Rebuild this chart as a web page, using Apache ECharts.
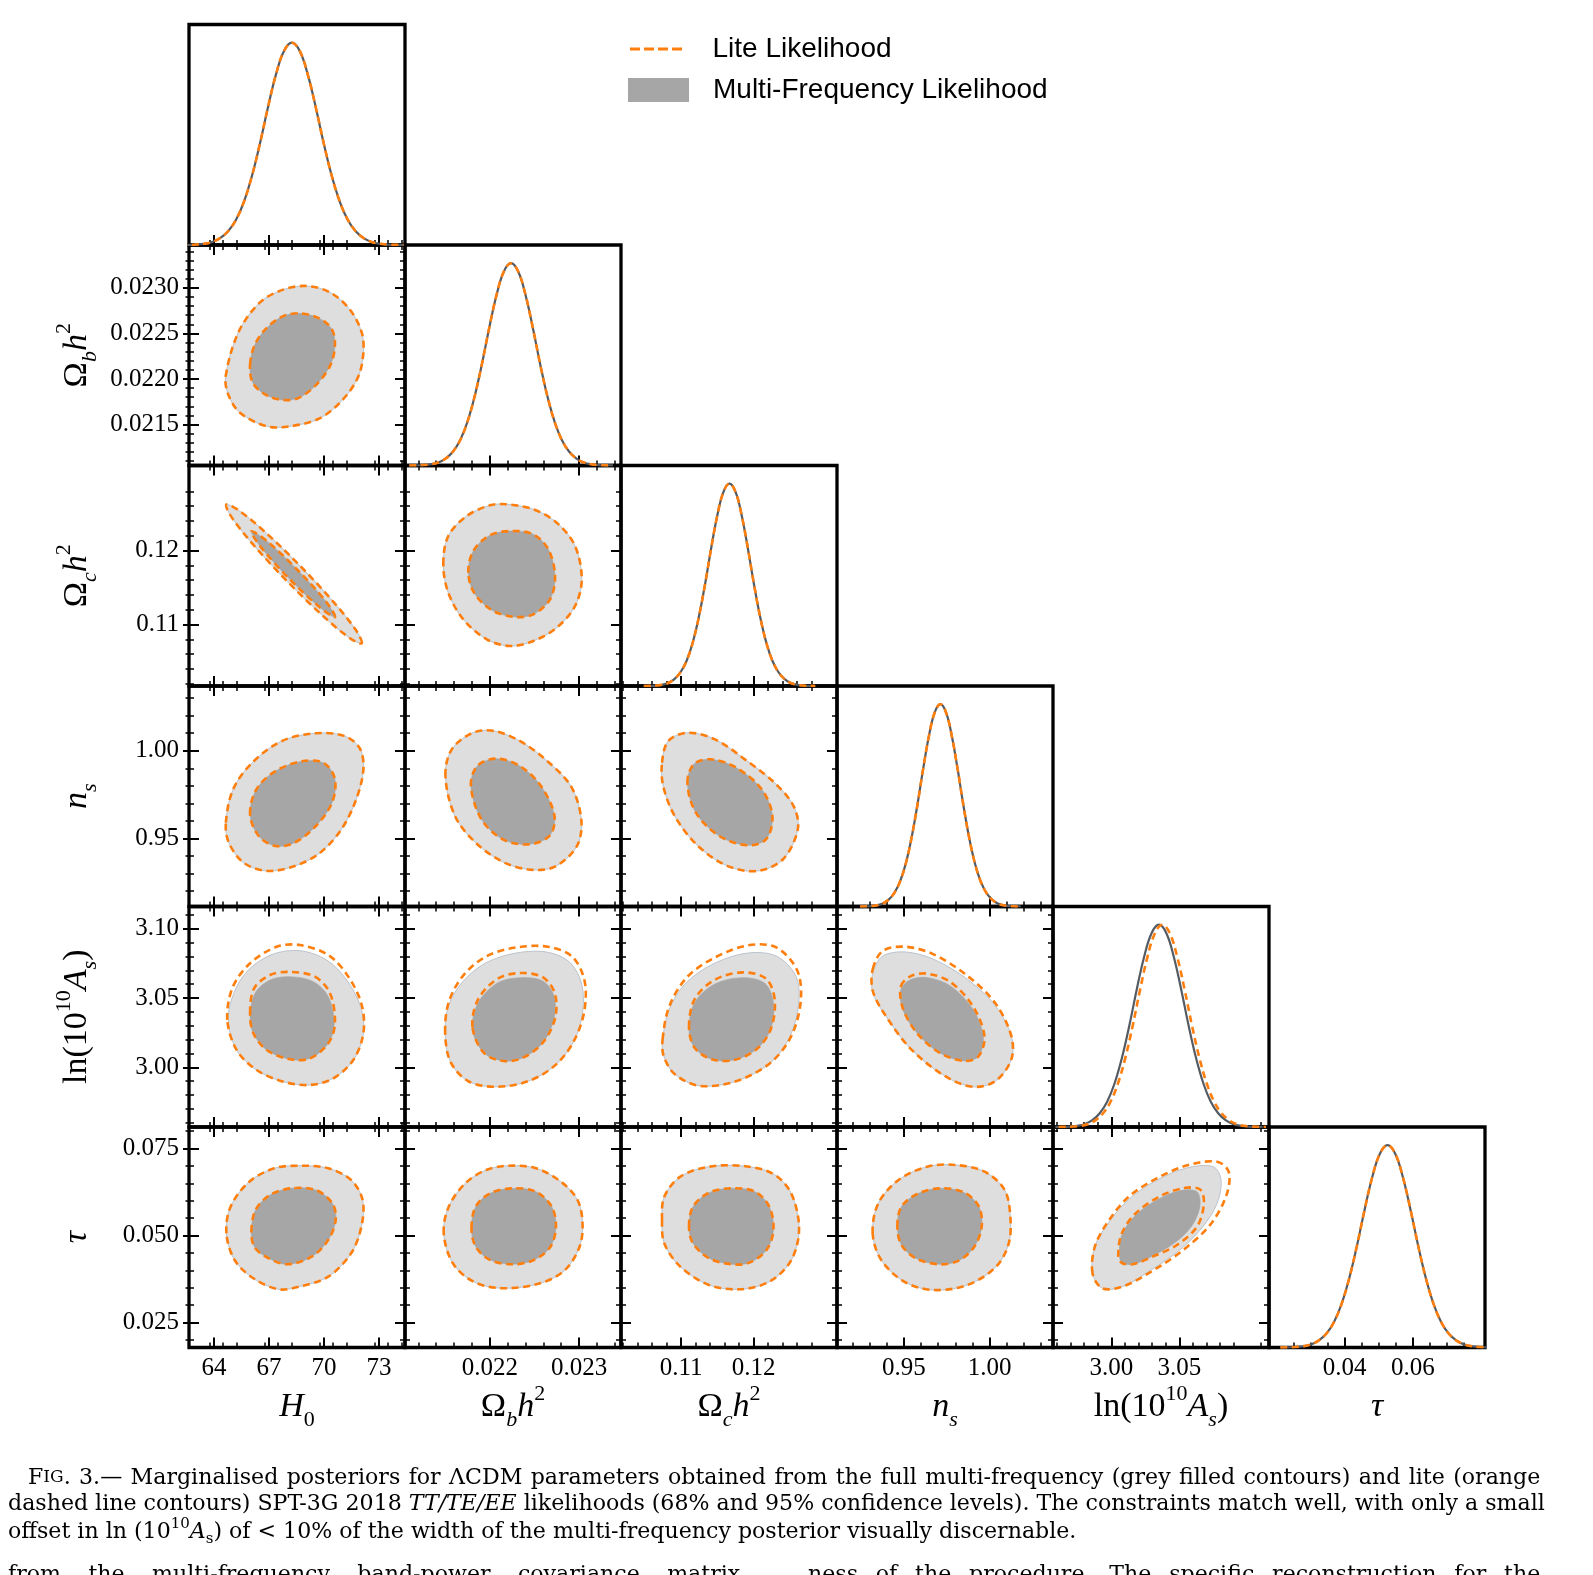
<!DOCTYPE html>
<html><head><meta charset="utf-8">
<script src="https://cdn.jsdelivr.net/npm/echarts@6/dist/echarts.min.js"></script>
<style>html,body{margin:0;padding:0;background:#fff}#c{width:1593px;height:1575px}</style>
</head><body><div id="c"></div>
<script>
// ---------------- DATA ----------------
const paramKeys = ['H0', 'Obh2', 'Och2', 'ns', 'lnAs', 'tau'];
const paramLabel = ['{it|H}{sub|0}', '{rm|Ω}{subi|b}{it|h}{sup|2}', '{rm|Ω}{subi|c}{it|h}{sup|2}',
  '{it|n}{subi|s}', '{rm|ln(10}{sup|10}{it|A}{subi|s}{rm|)}', '{it|τ}'];
const axisMin = [62.64, 0.02105, 0.1017, 0.911, 2.957, 0.0178];
const axisMax = [74.42, 0.02347, 0.1315, 1.037, 3.116, 0.0812];

const xTicks_H0 = [64, 67, 70, 73];
const xTicks_Obh2 = [0.022, 0.023];
const xTicks_Och2 = [0.11, 0.12];
const xTicks_ns = [0.95, 1.00];
const xTicks_lnAs = [3.00, 3.05];
const xTicks_tau = [0.04, 0.06];
const yTicks_Obh2 = [0.0215, 0.0220, 0.0225, 0.0230];
const yTicks_Och2 = [0.11, 0.12];
const yTicks_ns = [0.95, 1.00];
const yTicks_lnAs = [3.00, 3.05, 3.10];
const yTicks_tau = [0.025, 0.050, 0.075];
const xStep = [3, 0.001, 0.01, 0.05, 0.05, 0.02];
const xMinorSplit = [4, 5, 5, 5, 5, 4];
const yStep = [null, 0.0005, 0.01, 0.05, 0.05, 0.025];
const yMinorSplit = [null, 5, 5, 5, 5, 5];
const xDecimals = [0, 3, 2, 2, 2, 2];
const yDecimals = [null, 4, 2, 2, 2, 3];

// 1D marginals: normalised density read at the listed parameter values
const dens1D = [0.0002, 0.0007, 0.0022, 0.006, 0.015, 0.034, 0.068, 0.125, 0.215, 0.342, 0.502, 0.68, 0.842, 0.958, 1.0,
  0.958, 0.842, 0.68, 0.502, 0.342, 0.215, 0.125, 0.068, 0.034, 0.015, 0.006, 0.0022, 0.0007, 0.0002];
const pdfX_H0 = [62.16, 62.595, 63.03, 63.465, 63.90, 64.335, 64.77, 65.205, 65.64, 66.075, 66.51, 66.945, 67.38, 67.815, 68.25,
  68.685, 69.12, 69.555, 69.99, 70.425, 70.86, 71.295, 71.73, 72.165, 72.60, 73.035, 73.47, 73.905, 74.34];
const pdfX_Obh2 = [0.021097, 0.0211785, 0.02126, 0.0213415, 0.021423, 0.0215045, 0.021586, 0.0216675, 0.021749, 0.0218305, 0.021912, 0.0219935, 0.022075, 0.0221565, 0.022238,
  0.0223195, 0.022401, 0.0224825, 0.022564, 0.0226455, 0.022727, 0.0228085, 0.02289, 0.0229715, 0.023053, 0.0231345, 0.023216, 0.0232975, 0.023379];
const pdfX_Och2 = [0.10484, 0.105685, 0.10653, 0.107375, 0.10822, 0.109065, 0.10991, 0.110755, 0.1116, 0.112445, 0.11329, 0.114135, 0.11498, 0.115825, 0.11667,
  0.117515, 0.11836, 0.119205, 0.12005, 0.120895, 0.12174, 0.122585, 0.12343, 0.124275, 0.12512, 0.125965, 0.12681, 0.127655, 0.1285];
const pdfX_ns = [0.9244, 0.92775, 0.9311, 0.93445, 0.9378, 0.94115, 0.9445, 0.94785, 0.9512, 0.95455, 0.9579, 0.96125, 0.9646, 0.96795, 0.9713,
  0.97465, 0.978, 0.98135, 0.9847, 0.98805, 0.9914, 0.99475, 0.9981, 1.00145, 1.0048, 1.00815, 1.0115, 1.01485, 1.0182];
const pdfX_lnAs = [2.9587, 2.96415, 2.9696, 2.97505, 2.9805, 2.98595, 2.9914, 2.99685, 3.0023, 3.00775, 3.0132, 3.01865, 3.0241, 3.02955, 3.035,
  3.04045, 3.0459, 3.05135, 3.0568, 3.06225, 3.0677, 3.07315, 3.0786, 3.08405, 3.0895, 3.09495, 3.1004, 3.10585, 3.1113];
const pdfXLite_lnAs = [2.9612, 2.96665, 2.9721, 2.97755, 2.983, 2.98845, 2.9939, 2.99935, 3.0048, 3.01025, 3.0157, 3.02115, 3.0266, 3.03205, 3.0375,
  3.04295, 3.0484, 3.05385, 3.0593, 3.06475, 3.0702, 3.07565, 3.0811, 3.08655, 3.092, 3.09745, 3.1029, 3.10835, 3.1138];
const pdfX_tau = [0.0211, 0.02335, 0.0256, 0.02785, 0.0301, 0.03235, 0.0346, 0.03685, 0.0391, 0.04135, 0.0436, 0.04585, 0.0481, 0.05035, 0.0526,
  0.05485, 0.0571, 0.05935, 0.0616, 0.06385, 0.0661, 0.06835, 0.0706, 0.07285, 0.0751, 0.07735, 0.0796, 0.08185, 0.0841];

// 2D contours: 95% (outer) and 68% (inner) boundaries, [x, y] in parameter units
const outer_H0_Obh2 = [[64.64,0.02203],[65.33,0.02251],[66.51,0.02284],[67.78,0.02298],[69.06,0.02302],[70.33,0.02295],[71.42,0.02276],[72.06,0.02251],[72.15,0.02229],[71.88,0.02203],[71.06,0.02178],[69.79,0.02157],[68.15,0.02148],[66.88,0.02148],[65.42,0.02163],[64.78,0.02183]];
const inner_H0_Obh2 = [[65.97,0.02216],[66.24,0.02238],[66.88,0.02256],[67.78,0.02269],[68.69,0.02272],[69.69,0.02267],[70.42,0.02255],[70.60,0.02238],[70.37,0.02216],[69.60,0.02194],[68.60,0.02179],[67.70,0.02177],[66.79,0.02183],[66.11,0.02196]];
const outer_H0_Och2 = [[72.06,0.10746],[71.76,0.10919],[70.55,0.11297],[68.76,0.11778],[66.86,0.12235],[65.36,0.12543],[64.67,0.12622],[64.97,0.12449],[66.18,0.12070],[67.98,0.11589],[69.88,0.11132],[71.37,0.10824]];
const inner_H0_Och2 = [[70.61,0.11101],[70.11,0.11312],[68.56,0.11738],[66.88,0.12131],[66.04,0.12261],[66.55,0.12050],[68.09,0.11624],[69.78,0.11231]];
const outer_Obh2_Och2 = [[0.021479,0.11815],[0.021535,0.12197],[0.021741,0.12467],[0.022002,0.12612],[0.022189,0.12626],[0.022487,0.12558],[0.022750,0.12377],[0.022955,0.12062],[0.023030,0.11612],[0.022955,0.11251],[0.022750,0.10958],[0.022487,0.10778],[0.022226,0.10710],[0.021965,0.10801],[0.021703,0.11071],[0.021535,0.11431]];
const inner_Obh2_Och2 = [[0.021759,0.11701],[0.021815,0.11994],[0.022002,0.12207],[0.022245,0.12265],[0.022487,0.12220],[0.022656,0.12017],[0.022731,0.11657],[0.022675,0.11342],[0.022487,0.11139],[0.022282,0.11103],[0.022039,0.11184],[0.021834,0.11409]];
const outer_H0_ns = [[64.65,0.9589],[65.05,0.9780],[66.09,0.9932],[67.71,1.0056],[69.56,1.0100],[71.10,1.0085],[71.95,1.0015],[72.15,0.9894],[71.76,0.9723],[70.95,0.9551],[69.79,0.9417],[68.40,0.9341],[66.89,0.9313],[65.62,0.9360],[64.81,0.9475]];
const inner_H0_ns = [[65.97,0.9637],[66.32,0.9780],[67.36,0.9884],[68.86,0.9941],[70.02,0.9928],[70.60,0.9837],[70.44,0.9703],[69.56,0.9570],[68.40,0.9475],[67.36,0.9456],[66.44,0.9513]];
const outer_Obh2_ns = [[0.021503,0.9856],[0.021574,1.0008],[0.021812,1.0103],[0.022049,1.0113],[0.022335,1.0056],[0.022621,0.9951],[0.022907,0.9799],[0.023025,0.9608],[0.022977,0.9456],[0.022742,0.9341],[0.022495,0.9319],[0.022170,0.9359],[0.021845,0.9473],[0.021610,0.9627]];
const inner_Obh2_ns = [[0.021788,0.9799],[0.021859,0.9913],[0.022073,0.9955],[0.022335,0.9913],[0.022573,0.9799],[0.022725,0.9627],[0.022668,0.9513],[0.022430,0.9465],[0.022145,0.9494],[0.021907,0.9608]];
const outer_Och2_ns = [[0.10736,0.9932],[0.10823,1.0056],[0.11086,1.0103],[0.11467,1.0065],[0.11878,0.9951],[0.12288,0.9817],[0.12551,0.9684],[0.12609,0.9551],[0.12405,0.9380],[0.12053,0.9313],[0.11643,0.9341],[0.11232,0.9456],[0.10911,0.9627],[0.10752,0.9799]];
const inner_Och2_ns = [[0.11086,0.9817],[0.11174,0.9923],[0.11409,0.9951],[0.11761,0.9903],[0.12111,0.9780],[0.12259,0.9627],[0.12170,0.9494],[0.11907,0.9460],[0.11526,0.9513],[0.11203,0.9646]];
const outer_H0_lnAs = [[64.78,3.0342],[65.10,3.0540],[65.90,3.0705],[67.20,3.0815],[68.69,3.0841],[70.15,3.0774],[71.24,3.0630],[72.00,3.0437],[72.15,3.0246],[71.60,3.0053],[70.51,2.9921],[69.24,2.9873],[67.78,2.9897],[66.33,2.9981],[65.24,3.0125]];
const outerLite_H0_lnAs = [[64.73,3.0342],[65.00,3.0570],[65.93,3.0745],[67.42,3.0870],[68.69,3.0882],[70.24,3.0810],[71.33,3.0654],[72.06,3.0450],[72.15,3.0246],[71.60,3.0053],[70.51,2.9921],[69.24,2.9873],[67.78,2.9897],[66.33,2.9981],[65.24,3.0125]];
const inner_H0_lnAs = [[65.97,3.0365],[66.24,3.0534],[67.06,3.0630],[68.15,3.0654],[69.42,3.0618],[70.24,3.0510],[70.56,3.0318],[70.24,3.0174],[69.24,3.0065],[68.15,3.0058],[66.88,3.0125],[66.15,3.0246]];
const innerLite_H0_lnAs = [[65.97,3.0390],[66.19,3.0570],[67.06,3.0666],[68.15,3.0688],[69.51,3.0654],[70.33,3.0534],[70.60,3.0318],[70.24,3.0174],[69.24,3.0065],[68.15,3.0058],[66.88,3.0125],[66.15,3.0246]];
const outer_Obh2_lnAs = [[0.021500,3.0250],[0.021540,3.0450],[0.021700,3.0620],[0.021960,3.0755],[0.022300,3.0825],[0.022650,3.0830],[0.022900,3.0755],[0.023030,3.0600],[0.023040,3.0400],[0.022950,3.0200],[0.022750,3.0025],[0.022450,2.9905],[0.022080,2.9860],[0.021760,2.9900],[0.021560,3.0040]];
const outerLite_Obh2_lnAs = [[0.021500,3.0250],[0.021540,3.0470],[0.021700,3.0660],[0.021960,3.0800],[0.022300,3.0865],[0.022650,3.0870],[0.022920,3.0800],[0.023060,3.0630],[0.023060,3.0410],[0.022950,3.0200],[0.022750,3.0025],[0.022450,2.9905],[0.022080,2.9860],[0.021760,2.9900],[0.021560,3.0040]];
const inner_Obh2_lnAs = [[0.021806,3.0274],[0.021869,3.0466],[0.022090,3.0610],[0.022342,3.0647],[0.022594,3.0623],[0.022719,3.0515],[0.022719,3.0347],[0.022594,3.0178],[0.022373,3.0070],[0.022152,3.0046],[0.021932,3.0106]];
const innerLite_Obh2_lnAs = [[0.021806,3.0290],[0.021869,3.0490],[0.022090,3.0640],[0.022342,3.0680],[0.022594,3.0650],[0.022730,3.0530],[0.022730,3.0350],[0.022594,3.0178],[0.022373,3.0070],[0.022152,3.0046],[0.021932,3.0106]];
const outer_Och2_lnAs = [[0.10744,3.0202],[0.10836,3.0419],[0.11050,3.0600],[0.11420,3.0740],[0.11900,3.0823],[0.12311,3.0803],[0.12582,3.0659],[0.12622,3.0466],[0.12504,3.0226],[0.12234,3.0034],[0.11768,2.9902],[0.11263,2.9866],[0.10914,2.9950],[0.10759,3.0082]];
const outerLite_Och2_lnAs = [[0.10744,3.0202],[0.10836,3.0440],[0.11080,3.0650],[0.11457,3.0790],[0.11923,3.0880],[0.12311,3.0865],[0.12600,3.0700],[0.12650,3.0480],[0.12520,3.0226],[0.12234,3.0034],[0.11768,2.9902],[0.11263,2.9866],[0.10914,2.9950],[0.10759,3.0082]];
const inner_Och2_lnAs = [[0.11108,3.0274],[0.11185,3.0466],[0.11457,3.0599],[0.11845,3.0647],[0.12155,3.0606],[0.12273,3.0466],[0.12234,3.0274],[0.12039,3.0130],[0.11729,3.0053],[0.11419,3.0058],[0.11185,3.0142]];
const innerLite_Och2_lnAs = [[0.11108,3.0290],[0.11185,3.0490],[0.11457,3.0630],[0.11845,3.0685],[0.12170,3.0640],[0.12290,3.0490],[0.12240,3.0280],[0.12039,3.0130],[0.11729,3.0053],[0.11419,3.0058],[0.11185,3.0142]];
const outer_ns_lnAs = [[0.9319,3.0683],[0.9378,3.0803],[0.9510,3.0832],[0.9674,3.0779],[0.9871,3.0635],[1.0035,3.0443],[1.0127,3.0226],[1.0127,3.0058],[1.0035,2.9902],[0.9903,2.9860],[0.9739,2.9938],[0.9543,3.0130],[0.9395,3.0370],[0.9319,3.0538]];
const outerLite_ns_lnAs = [[0.9319,3.0710],[0.9378,3.0840],[0.9510,3.0870],[0.9674,3.0815],[0.9871,3.0660],[1.0035,3.0460],[1.0127,3.0226],[1.0127,3.0058],[1.0035,2.9902],[0.9903,2.9860],[0.9739,2.9938],[0.9543,3.0130],[0.9395,3.0370],[0.9319,3.0550]];
const inner_ns_lnAs = [[0.9483,3.0563],[0.9543,3.0635],[0.9641,3.0647],[0.9772,3.0587],[0.9903,3.0419],[0.9963,3.0226],[0.9937,3.0082],[0.9854,3.0046],[0.9707,3.0106],[0.9575,3.0250],[0.9493,3.0419]];
const innerLite_ns_lnAs = [[0.9483,3.0585],[0.9543,3.0660],[0.9641,3.0675],[0.9772,3.0615],[0.9903,3.0440],[0.9970,3.0226],[0.9937,3.0082],[0.9854,3.0046],[0.9707,3.0106],[0.9575,3.0250],[0.9493,3.0430]];
const outer_H0_tau = [[64.68,0.05064],[64.91,0.05829],[65.93,0.06547],[67.29,0.06933],[68.64,0.07007],[70.23,0.06933],[71.48,0.06596],[72.11,0.06021],[72.04,0.05254],[71.48,0.04489],[70.23,0.03816],[68.64,0.03529],[67.52,0.03454],[66.15,0.03770],[65.13,0.04296]];
const inner_H0_tau = [[66.04,0.05110],[66.27,0.05734],[67.06,0.06165],[68.19,0.06358],[69.55,0.06309],[70.46,0.05926],[70.64,0.05446],[70.23,0.04871],[69.33,0.04391],[67.97,0.04173],[66.83,0.04391],[66.20,0.04679]];
const outer_Obh2_tau = [[0.021484,0.05064],[0.021540,0.05829],[0.021726,0.06501],[0.021959,0.06884],[0.022214,0.07007],[0.022517,0.06933],[0.022797,0.06547],[0.022983,0.06021],[0.023039,0.05351],[0.023006,0.04679],[0.022843,0.04009],[0.022564,0.03626],[0.022145,0.03483],[0.021819,0.03672],[0.021586,0.04201]];
const inner_Obh2_tau = [[0.021795,0.05208],[0.021842,0.05829],[0.022005,0.06214],[0.022261,0.06358],[0.022517,0.06260],[0.022694,0.05829],[0.022741,0.05254],[0.022680,0.04679],[0.022494,0.04296],[0.022261,0.04173],[0.022005,0.04296],[0.021842,0.04679]];
const outer_Och2_tau = [[0.10736,0.05446],[0.10767,0.06116],[0.10989,0.06691],[0.11385,0.06979],[0.11860,0.06999],[0.12256,0.06789],[0.12493,0.06309],[0.12613,0.05541],[0.12613,0.04871],[0.12493,0.04201],[0.12216,0.03672],[0.11820,0.03454],[0.11385,0.03578],[0.10989,0.04104],[0.10767,0.04776]];
const inner_Och2_tau = [[0.11108,0.05254],[0.11163,0.05829],[0.11385,0.06231],[0.11701,0.06358],[0.12019,0.06260],[0.12216,0.05829],[0.12273,0.05159],[0.12177,0.04584],[0.11940,0.04219],[0.11701,0.04173],[0.11385,0.04345],[0.11163,0.04776]];
const outer_ns_tau = [[0.9318,0.05064],[0.9351,0.05926],[0.9469,0.06596],[0.9636,0.06979],[0.9804,0.07028],[0.9971,0.06835],[1.0088,0.06309],[1.0121,0.05541],[1.0112,0.04776],[1.0038,0.04104],[0.9871,0.03578],[0.9670,0.03434],[0.9502,0.03672],[0.9368,0.04296]];
const inner_ns_tau = [[0.9462,0.05254],[0.9486,0.05829],[0.9586,0.06214],[0.9720,0.06358],[0.9854,0.06231],[0.9938,0.05829],[0.9954,0.05254],[0.9911,0.04679],[0.9820,0.04276],[0.9703,0.04173],[0.9569,0.04345],[0.9486,0.04728]];
const outer_lnAs_tau = [[2.9861,0.03914],[2.9878,0.04679],[2.9975,0.05351],[3.0123,0.06021],[3.0313,0.06547],[3.0545,0.06933],[3.0749,0.06979],[3.0807,0.06596],[3.0778,0.05926],[3.0673,0.05254],[3.0503,0.04584],[3.0292,0.04009],[3.0081,0.03529],[2.9933,0.03483]];
const outerLite_lnAs_tau = [[2.9861,0.03914],[2.9878,0.04679],[2.9975,0.05397],[3.0123,0.06099],[3.0334,0.06645],[3.0567,0.07028],[3.0778,0.07122],[3.0863,0.06835],[3.0850,0.06196],[3.0736,0.05351],[3.0545,0.04633],[3.0313,0.04009],[3.0081,0.03529],[2.9933,0.03483]];
const inner_lnAs_tau = [[3.0060,0.04391],[3.0072,0.04966],[3.0166,0.05541],[3.0334,0.06021],[3.0503,0.06289],[3.0630,0.06260],[3.0651,0.05829],[3.0588,0.05254],[3.0461,0.04776],[3.0292,0.04391],[3.0166,0.04181],[3.0081,0.04201]];
const innerLite_lnAs_tau = [[3.0051,0.04391],[3.0072,0.05015],[3.0166,0.05590],[3.0343,0.06099],[3.0525,0.06358],[3.0651,0.06329],[3.0681,0.05926],[3.0630,0.05254],[3.0482,0.04728],[3.0292,0.04374],[3.0166,0.04181],[3.0081,0.04201]];

// ---------------- TABLES BUILT FROM THE DATA ----------------
const xTicksList = [xTicks_H0, xTicks_Obh2, xTicks_Och2, xTicks_ns, xTicks_lnAs, xTicks_tau];
const yTicksList = [null, yTicks_Obh2, yTicks_Och2, yTicks_ns, yTicks_lnAs, yTicks_tau];
const pdfXList = [pdfX_H0, pdfX_Obh2, pdfX_Och2, pdfX_ns, pdfX_lnAs, pdfX_tau];
const pdfXLiteList = [pdfX_H0, pdfX_Obh2, pdfX_Och2, pdfX_ns, pdfXLite_lnAs, pdfX_tau];
const contours = {
  '1,0': [[outer_H0_Obh2, inner_H0_Obh2], [outer_H0_Obh2, inner_H0_Obh2]],
  '2,0': [[outer_H0_Och2, inner_H0_Och2], [outer_H0_Och2, inner_H0_Och2]],
  '2,1': [[outer_Obh2_Och2, inner_Obh2_Och2], [outer_Obh2_Och2, inner_Obh2_Och2]],
  '3,0': [[outer_H0_ns, inner_H0_ns], [outer_H0_ns, inner_H0_ns]],
  '3,1': [[outer_Obh2_ns, inner_Obh2_ns], [outer_Obh2_ns, inner_Obh2_ns]],
  '3,2': [[outer_Och2_ns, inner_Och2_ns], [outer_Och2_ns, inner_Och2_ns]],
  '4,0': [[outer_H0_lnAs, inner_H0_lnAs], [outerLite_H0_lnAs, innerLite_H0_lnAs]],
  '4,1': [[outer_Obh2_lnAs, inner_Obh2_lnAs], [outerLite_Obh2_lnAs, innerLite_Obh2_lnAs]],
  '4,2': [[outer_Och2_lnAs, inner_Och2_lnAs], [outerLite_Och2_lnAs, innerLite_Och2_lnAs]],
  '4,3': [[outer_ns_lnAs, inner_ns_lnAs], [outerLite_ns_lnAs, innerLite_ns_lnAs]],
  '5,0': [[outer_H0_tau, inner_H0_tau], [outer_H0_tau, inner_H0_tau]],
  '5,1': [[outer_Obh2_tau, inner_Obh2_tau], [outer_Obh2_tau, inner_Obh2_tau]],
  '5,2': [[outer_Och2_tau, inner_Och2_tau], [outer_Och2_tau, inner_Och2_tau]],
  '5,3': [[outer_ns_tau, inner_ns_tau], [outer_ns_tau, inner_ns_tau]],
  '5,4': [[outer_lnAs_tau, inner_lnAs_tau], [outerLite_lnAs_tau, innerLite_lnAs_tau]]
};

// ---------------- LAYOUT / STYLE ----------------
const ORANGE = '#ff7f0e';
const GREY_OUT = '#dedede', GREY_IN = '#a6a6a6', GREY_EDGE = '#bcc3cc', GREY_LINE = '#555b63';
const colLeft = [189, 405, 621, 837, 1053, 1269];
const rowTop = [24.5, 245, 465.5, 686, 906.5, 1127];
const PW = 216, PH = 220.5;
const SERIF = 'Liberation Serif';
const nameRich = {
  rm: {fontFamily: SERIF, fontSize: 34, lineHeight: 48, color: '#000'},
  it: {fontFamily: SERIF, fontStyle: 'italic', fontSize: 34, lineHeight: 48, color: '#000'},
  sub: {fontFamily: SERIF, fontSize: 22, lineHeight: 28, verticalAlign: 'bottom', color: '#000'},
  subi: {fontFamily: SERIF, fontStyle: 'italic', fontSize: 22, lineHeight: 28, verticalAlign: 'bottom', color: '#000'},
  sup: {fontFamily: SERIF, fontSize: 22, lineHeight: 30, verticalAlign: 'top', color: '#000'}
};

const grids = [], xAxes = [], yAxes = [], series = [];

function makeAxis(kind, gi, position, p, ticks, step, minorSplit, showLabel, decimals, withName, outward) {
  const a = {
    type: 'value', gridIndex: gi, position: position,
    min: axisMin[p], max: axisMax[p],
    minInterval: step, maxInterval: step,
    axisLine: {show: false, onZero: false},
    axisTick: {show: true, inside: !outward, length: outward ? 6 : 10, customValues: ticks, lineStyle: {color: '#000', width: 2}},
    minorTick: {show: true, splitNumber: minorSplit, length: outward ? 3.5 : 5, lineStyle: {color: '#000', width: 1.5}},
    splitLine: {show: false}, minorSplitLine: {show: false},
    axisLabel: {show: showLabel, customValues: ticks, fontFamily: SERIF, fontSize: 25, color: '#000',
      margin: kind === 'x' ? 8 : 10,
      formatter: v => Number(v).toFixed(decimals)},
    silent: true
  };
  if (withName) {
    a.name = paramLabel[p];
    a.nameLocation = 'middle';
    a.nameGap = kind === 'x' ? 36 : 88;
    if (kind === 'y') a.nameRotate = 90;
    a.nameTextStyle = {rich: nameRich, fontFamily: SERIF, fontSize: 34, color: '#000'};
  }
  return a;
}

function gridCfg(r, c, visible) {
  return {left: colLeft[c], top: rowTop[r], width: PW, height: PH, show: visible,
    borderColor: '#000', borderWidth: 3.3, backgroundColor: 'transparent',
    containLabel: false, outerBoundsMode: 'none'};
}

function contourSeries(name, xi, yi, polys, isLite) {
  return {
    type: 'custom', name: name, coordinateSystem: 'cartesian2d',
    xAxisIndex: xi, yAxisIndex: yi, silent: true, animation: false, clip: false,
    z: isLite ? 4 : 3,
    data: [[0, 0]],
    renderItem: function (params, api) {
      const children = polys.map(function (pts, k) {
        const st = isLite
          ? {fill: 'none', stroke: ORANGE, lineWidth: 2.6, lineDash: [7, 4.5], lineCap: 'butt'}
          : (k === 0 ? {fill: GREY_OUT, stroke: GREY_EDGE, lineWidth: 1}
                     : {fill: GREY_IN, stroke: GREY_IN, lineWidth: 0.6});
        return {type: 'polygon', shape: {points: pts.map(p => api.coord(p)), smooth: 0.33}, style: st};
      });
      return {type: 'group', children: children};
    }
  };
}

for (let r = 0; r < 6; r++) {
  for (let c = 0; c <= r; c++) {
    const gi = grids.length;
    grids.push(gridCfg(r, c, true));
    const bottomRow = (r === 5);
    if (r === c) {
      const xi = xAxes.length;
      xAxes.push(makeAxis('x', gi, 'bottom', c, xTicksList[c], xStep[c], xMinorSplit[c], bottomRow, xDecimals[c], bottomRow, false));
      const yi = yAxes.length;
      yAxes.push({type: 'value', gridIndex: gi, min: 0, max: 1.09, show: false, axisLine: {onZero: false}});
      series.push({type: 'line', name: 'Multi-Frequency Likelihood', xAxisIndex: xi, yAxisIndex: yi,
        data: pdfXList[c].map((x, i) => [x, dens1D[i]]), smooth: 0.4, symbol: 'none', silent: true,
        lineStyle: {color: GREY_LINE, width: 2.2}, z: 3, animation: false});
      series.push({type: 'line', name: 'Lite Likelihood', xAxisIndex: xi, yAxisIndex: yi,
        data: pdfXLiteList[c].map((x, i) => [x, dens1D[i]]), smooth: 0.4, symbol: 'none', silent: true,
        lineStyle: {color: ORANGE, width: 2.6, type: [7, 4.5]}, z: 4, animation: false});
    } else {
      const xi = xAxes.length;
      xAxes.push(makeAxis('x', gi, 'bottom', c, xTicksList[c], xStep[c], xMinorSplit[c], bottomRow, xDecimals[c], bottomRow, false));
      xAxes.push(makeAxis('x', gi, 'top', c, xTicksList[c], xStep[c], xMinorSplit[c], false, xDecimals[c], false, false));
      const yi = yAxes.length;
      yAxes.push(makeAxis('y', gi, 'left', r, yTicksList[r], yStep[r], yMinorSplit[r], c === 0, yDecimals[r], c === 0, false));
      yAxes.push(makeAxis('y', gi, 'right', r, yTicksList[r], yStep[r], yMinorSplit[r], false, yDecimals[r], false, false));
      const cs = contours[r + ',' + c];
      series.push(contourSeries('Multi-Frequency Likelihood', xi, yi, cs[0], false));
      series.push(contourSeries('Lite Likelihood', xi, yi, cs[1], true));
    }
  }
}
// short outward tick stubs on the outer left spine (first column)
for (let r = 1; r < 6; r++) {
  const gi = grids.length;
  grids.push(gridCfg(r, 0, false));
  xAxes.push({type: 'value', gridIndex: gi, min: 0, max: 1, show: false, axisLine: {onZero: false}});
  yAxes.push(makeAxis('y', gi, 'left', r, yTicksList[r], yStep[r], yMinorSplit[r], false, yDecimals[r], false, true));
}

const SANS = 'Liberation Sans';
const legendText = {fontFamily: SANS, fontSize: 28, color: '#000'};
const legends = [
  {data: [{name: 'Lite Likelihood', icon: 'path://M0,0h10v3h-10z M14,0h10v3h-10z M28,0h10v3h-10z M42,0h10v3h-10z', itemStyle: {color: ORANGE, borderWidth: 0}}],
   left: 630, top: 35, itemWidth: 53, itemHeight: 3, padding: 0, selectedMode: false,
   textStyle: Object.assign({padding: [0, 0, 0, 25]}, legendText)},
  {data: [{name: 'Multi-Frequency Likelihood', icon: 'rect', itemStyle: {color: GREY_IN, borderWidth: 0}}],
   left: 628, top: 76, itemWidth: 61, itemHeight: 24, padding: 0, selectedMode: false,
   textStyle: Object.assign({padding: [0, 0, 0, 19]}, legendText)}
];

const CAP = 'DejaVu Serif';
const CS = 22.1;
const capRich = {
  scs: {fontFamily: CAP, fontSize: 17, fill: '#000'},
  it: {fontFamily: CAP, fontStyle: 'italic', fontSize: CS, fill: '#000'},
  sup: {fontFamily: CAP, fontSize: 15, fill: '#000', verticalAlign: 'top', lineHeight: 20},
  sub: {fontFamily: CAP, fontSize: 15, fill: '#000', verticalAlign: 'bottom', lineHeight: 22},
  n: {fontFamily: CAP, fontSize: CS, fill: '#000', lineHeight: 30},
  s1: {fontFamily: CAP, fontSize: CS, width: 8.4},
  s4a: {fontFamily: CAP, fontSize: CS, width: 27.4},
  s4b: {fontFamily: CAP, fontSize: CS, width: 17.8}
};
function justify(words, sp) {
  return words.map(w => w.charAt(0) === '{' ? w : '{n|' + w + '}').join('{' + sp + '| }');
}
function capText(x, y, txt) {
  return {type: 'text', x: x, y: y, silent: true,
    style: {text: txt, rich: capRich, fontFamily: CAP, fontSize: CS, fill: '#000', verticalAlign: 'middle', align: 'left'}};
}
const capLine1 = justify(['{n|F}{scs|IG}{n|.}', '3.—', 'Marginalised', 'posteriors', 'for', 'ΛCDM', 'parameters', 'obtained',
  'from', 'the', 'full', 'multi-frequency', '(grey', 'filled', 'contours)', 'and', 'lite', '(orange'], 's1');
const capLine4a = justify(['from', 'the', 'multi-frequency', 'band-power', 'covariance', 'matrix'], 's4a');
const capLine4b = justify(['ness', 'of', 'the', 'procedure.', 'The', 'specific', 'reconstruction', 'for', 'the'], 's4b');
const graphics = [
  capText(28, 1478, capLine1),
  capText(8, 1504, '{n|dashed line contours) SPT-3G 2018 }{it|TT/TE/EE}{n| likelihoods (68% and 95% confidence levels). The constraints match well, with only a small}'),
  capText(8, 1532, '{n|offset in ln (10}{sup|10}{it|A}{sub|s}{n|) of < 10% of the width of the multi-frequency posterior visually discernable.}'),
  capText(8, 1575, capLine4a),
  capText(808, 1575, capLine4b)
];

const chart = echarts.init(document.getElementById('c'), null, {renderer: 'canvas', width: 1593, height: 1575});
chart.setOption({
  animation: false,
  backgroundColor: '#fff',
  textStyle: {fontFamily: SERIF},
  grid: grids, xAxis: xAxes, yAxis: yAxes, series: series,
  legend: legends,
  graphic: graphics
});
</script></body></html>
